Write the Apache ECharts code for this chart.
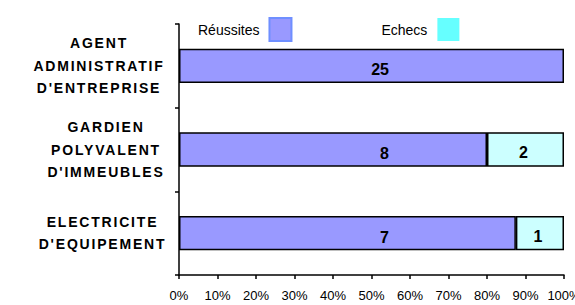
<!DOCTYPE html>
<html>
<head>
<meta charset="utf-8">
<script src="https://cdn.jsdelivr.net/npm/echarts@6/dist/echarts.min.js"></script>
<style>
html,body{margin:0;padding:0;background:#fff;}
#c{width:575px;height:305px;}
#c svg text[style*="Liberation Sans"]{letter-spacing:1.8px;}
</style>
</head>
<body>
<div id="c"></div>
<script>
const categories = ["AGENT\nADMINISTRATIF\nD'ENTREPRISE", "GARDIEN\nPOLYVALENT\nD'IMMEUBLES", "ELECTRICITE\nD'EQUIPEMENT"];
const seriesNames = ["Réussites", "Echecs"];
const reussites = [25, 8, 7];
const echecs = [0, 2, 1];
const xTicks = [0, 10, 20, 30, 40, 50, 60, 70, 80, 90, 100];

const totals = reussites.map((v, i) => v + echecs[i]);
const pct = (arr) => arr.map((v, i) => v === 0 ? null : { value: v / totals[i] * 100, raw: v });

const blockWidths = [130, 116, 123];

const chart = echarts.init(document.getElementById('c'), null, { renderer: 'svg' });
const labelRich = {};
blockWidths.forEach((w, i) => {
  labelRich['c' + i] = {
    width: w, align: 'center', lineHeight: 22.5,
    fontFamily: 'Liberation Sans', fontWeight: 'bold', fontSize: 14, color: '#000'
  };
});

chart.setOption({
  animation: false,
  backgroundColor: '#fff',
  legend: {
    left: 193, top: 12,
    align: 'right',
    icon: 'rect',
    itemWidth: 22, itemHeight: 23, itemGap: 89,
    textStyle: { fontFamily: 'Arial', fontSize: 14, color: '#000', padding: [0, 5, 0, 0] },
    data: [
      { name: seriesNames[0], icon: 'rect', itemStyle: { color: '#9999ff', borderColor: '#6f8fff', borderWidth: 2 } },
      { name: seriesNames[1], icon: 'rect', itemStyle: { color: '#66ffff', borderWidth: 0 } }
    ]
  },
  grid: { left: 179, right: 11, top: 24, bottom: 30, outerBoundsMode: 'none', containLabel: false },
  xAxis: {
    type: 'value', min: xTicks[0], max: xTicks[xTicks.length - 1], interval: 10,
    axisLine: { show: true, lineStyle: { color: '#000', width: 1.5 } },
    axisTick: { show: true, length: 4, lineStyle: { color: '#000', width: 1.5 } },
    splitLine: { show: false },
    axisLabel: { formatter: '{value}%', fontFamily: 'Arial', fontSize: 13, color: '#000', margin: 14, showMaxLabel: true, hideOverlap: false }
  },
  yAxis: {
    type: 'category', inverse: true, data: categories,
    axisLine: { show: true, lineStyle: { color: '#000', width: 1.5 } },
    axisTick: { show: true, length: 4, lineStyle: { color: '#000', width: 1.5 } },
    axisLabel: {
      margin: 15,
      formatter: function (value, idx) {
        return value.split('\n').map(l => '{c' + idx + '|' + l + '}').join('\n');
      },
      rich: labelRich
    }
  },
  series: [
    {
      name: seriesNames[0], type: 'bar', stack: 'total', barWidth: '41%',
      data: pct(reussites),
      itemStyle: { color: '#9999ff', borderColor: '#000', borderWidth: 1.5 },
      label: {
        show: true, position: [210, '50%'], align: 'right', verticalAlign: 'middle', offset: [0, 4],
        fontFamily: 'Arial', fontWeight: 'bold', fontSize: 16, color: '#000',
        formatter: p => p.data.raw
      }
    },
    {
      name: seriesNames[1], type: 'bar', stack: 'total', barWidth: '41%',
      data: pct(echecs),
      itemStyle: { color: '#ccffff', borderColor: '#000', borderWidth: 1.5 },
      label: {
        show: true, position: 'inside', offset: [-2, 3],
        fontFamily: 'Arial', fontWeight: 'bold', fontSize: 16, color: '#000',
        formatter: p => p.data.raw
      }
    }
  ]
});
</script>
</body>
</html>
